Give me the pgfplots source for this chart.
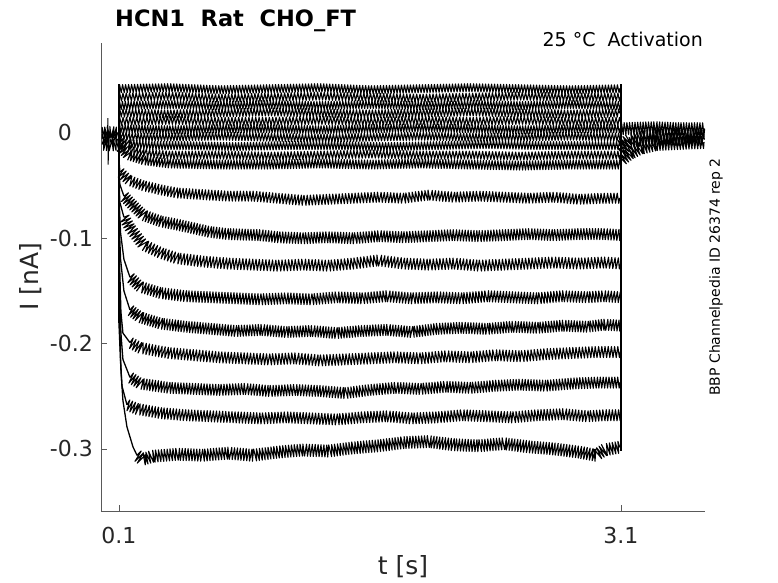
\documentclass[border=0pt]{standalone}
\usepackage{fontspec}
\setmainfont{DejaVu Sans}
\usepackage{pgfplots}
\pgfplotsset{compat=1.18}
\usetikzlibrary{decorations.pathmorphing}
\definecolor{axgray}{RGB}{38,38,38}
\tikzset{nz/.style 2 args={black, line width=1.1bp, line join=round, decorate, decoration={zigzag, segment length=#1, amplitude=#2}},
  tr/.style={black, line width=1.3bp, line join=round}}
\begin{document}
\begin{tikzpicture}
\useasboundingbox (-101bp,-72bp) rectangle (677bp,511bp);
\begin{axis}[
  name=ax, at={(0,0)}, anchor=south west,
  scale only axis, width=604bp, height=468bp,
  xmin=-0.007, xmax=3.602, ymin=-0.3589, ymax=0.0854,
  axis x line*=bottom, axis y line*=left,
  axis line style={black!65, line width=0.7bp, -},
  tick align=inside, major tick length=6bp,
  tick style={black!65, line width=0.7bp},
  xtick={0.1,3.1}, xticklabels={0.1,3.1},
  ytick={-0.3,-0.2,-0.1,0}, yticklabels={-0.3,-0.2,-0.1,0\phantom{.1}},
  ticklabel style={font=\fontsize{22bp}{26bp}\selectfont, text=axgray},
  xticklabel style={anchor=base, yshift=-32bp, inner sep=0pt},
  yticklabel style={anchor=east, xshift=-8bp, inner sep=0pt},
]
% pre-step baseline
\addplot[nz={2.6bp}{5.5bp}] coordinates {(0,0.000) (0.05,0.001) (0.1,0.000)};
\addplot[nz={3.1bp}{5.5bp}] coordinates {(0,-0.006) (0.05,-0.005) (0.1,-0.006)};
\addplot[nz={2.8bp}{5.5bp}] coordinates {(0,-0.011) (0.05,-0.012) (0.1,-0.011)};
\addplot[black, line width=1bp] coordinates {(0.032,-0.006) (0.034,0.014) (0.036,-0.030) (0.038,-0.006)};
% step edges
\addplot[black, line width=1.2bp] coordinates {(0.1,0.046) (0.1,-0.18)};
\addplot[black, line width=1.2bp] coordinates {(3.1,0.046) (3.1,-0.302)};
% upper traces
\addplot[nz={3bp}{4bp}] coordinates {(0.1,0.042) (0.4,0.043) (0.7,0.041) (1.0,0.042) (1.3,0.043) (1.6,0.041) (1.9,0.042) (2.2,0.043) (2.5,0.042) (2.8,0.041) (3.1,0.042)};
\addplot[nz={3.3bp}{4bp}] coordinates {(0.1,0.034) (0.4,0.035) (0.7,0.033) (1.0,0.034) (1.3,0.035) (1.6,0.034) (1.9,0.033) (2.2,0.034) (2.5,0.035) (2.8,0.034) (3.1,0.034)};
\addplot[nz={2.9bp}{4bp}] coordinates {(0.1,0.026) (0.4,0.027) (0.7,0.026) (1.0,0.027) (1.3,0.026) (1.6,0.027) (1.9,0.026) (2.2,0.027) (2.5,0.026) (2.8,0.027) (3.1,0.026)};
\addplot[nz={3.2bp}{4bp}] coordinates {(0.1,0.019) (0.4,0.018) (0.7,0.019) (1.0,0.020) (1.3,0.019) (1.6,0.018) (1.9,0.019) (2.2,0.020) (2.5,0.019) (2.8,0.018) (3.1,0.019)};
\addplot[nz={3.4bp}{4bp}] coordinates {(0.1,0.011) (0.4,0.012) (0.7,0.011) (1.0,0.011) (1.3,0.012) (1.6,0.011) (1.9,0.012) (2.2,0.011) (2.5,0.012) (2.8,0.011) (3.1,0.011)};
\addplot[nz={2.8bp}{4bp}] coordinates {(0.1,0.004) (0.4,0.003) (0.7,0.004) (1.0,0.004) (1.3,0.003) (1.6,0.004) (1.9,0.005) (2.2,0.004) (2.5,0.003) (2.8,0.004) (3.1,0.004)};
\addplot[nz={3.1bp}{4bp}] coordinates {(0.1,-0.002) (0.2,-0.004) (0.4,-0.004) (0.7,-0.003) (1.0,-0.004) (1.3,-0.005) (1.6,-0.004) (1.9,-0.003) (2.2,-0.004) (2.5,-0.004) (2.8,-0.003) (3.1,-0.004)};
\addplot[nz={3bp}{4bp}] coordinates {(0.1,-0.006) (0.15,-0.010) (0.3,-0.012) (0.5,-0.012) (0.8,-0.013) (1.1,-0.012) (1.4,-0.012) (1.7,-0.013) (2.0,-0.012) (2.3,-0.011) (2.6,-0.012) (2.9,-0.012) (3.1,-0.012)};
\addplot[nz={3.3bp}{4bp}] coordinates {(0.1,-0.008) (0.15,-0.015) (0.25,-0.019) (0.4,-0.021) (0.7,-0.021) (1.0,-0.022) (1.3,-0.021) (1.6,-0.020) (1.9,-0.021) (2.2,-0.021) (2.5,-0.022) (2.8,-0.021) (3.1,-0.021)};
\addplot[nz={2.9bp}{4.5bp}] coordinates {(0.1,-0.013) (0.15,-0.021) (0.25,-0.026) (0.4,-0.029) (0.7,-0.030) (1.0,-0.030) (1.3,-0.029) (1.6,-0.030) (1.9,-0.029) (2.2,-0.030) (2.5,-0.031) (2.8,-0.030) (3.1,-0.030)};
% lower traces: fast onset (plain) then noisy plateau
\addplot[tr] coordinates {(0.1,-0.025) (0.106,-0.037)};
\addplot[nz={3.2bp}{5bp}] coordinates {(0.106,-0.037) (0.16,-0.045) (0.244,-0.050) (0.35,-0.054) (0.447,-0.057) (0.644,-0.059) (0.75,-0.060) (0.9,-0.060) (1.05,-0.062) (1.2,-0.064) (1.35,-0.063) (1.5,-0.062) (1.65,-0.061) (1.8,-0.062) (1.95,-0.059) (2.1,-0.061) (2.25,-0.060) (2.4,-0.061) (2.55,-0.062) (2.7,-0.061) (2.85,-0.063) (3.0,-0.062) (3.1,-0.062)};
\addplot[tr] coordinates {(0.1,-0.035) (0.106,-0.049) (0.13,-0.060)};
\addplot[nz={2.9bp}{5.5bp}] coordinates {(0.13,-0.060) (0.166,-0.066) (0.244,-0.078) (0.35,-0.084) (0.447,-0.087) (0.644,-0.094) (0.75,-0.096) (0.94,-0.097) (1.05,-0.099) (1.2,-0.100) (1.35,-0.099) (1.5,-0.100) (1.65,-0.098) (1.8,-0.099) (1.95,-0.098) (2.1,-0.097) (2.25,-0.098) (2.4,-0.097) (2.55,-0.096) (2.7,-0.097) (2.85,-0.096) (3.0,-0.096) (3.1,-0.097)};
\addplot[tr] coordinates {(0.1,-0.045) (0.106,-0.066) (0.13,-0.080)};
\addplot[nz={3.3bp}{5.5bp}] coordinates {(0.13,-0.080) (0.166,-0.090) (0.244,-0.106) (0.35,-0.114) (0.447,-0.119) (0.6,-0.122) (0.75,-0.124) (0.9,-0.125) (1.05,-0.126) (1.2,-0.125) (1.35,-0.126) (1.5,-0.124) (1.65,-0.121) (1.8,-0.124) (1.95,-0.125) (2.1,-0.124) (2.25,-0.126) (2.4,-0.125) (2.55,-0.124) (2.7,-0.123) (2.85,-0.124) (3.0,-0.123) (3.1,-0.124)};
\addplot[tr] coordinates {(0.1,-0.06) (0.11,-0.095) (0.13,-0.120) (0.166,-0.137)};
\addplot[nz={3bp}{5.5bp}] coordinates {(0.166,-0.137) (0.226,-0.146) (0.35,-0.152) (0.5,-0.155) (0.65,-0.156) (0.8,-0.157) (0.95,-0.158) (1.1,-0.157) (1.25,-0.158) (1.4,-0.156) (1.55,-0.157) (1.7,-0.155) (1.85,-0.157) (2.0,-0.156) (2.15,-0.157) (2.3,-0.155) (2.45,-0.156) (2.6,-0.157) (2.75,-0.155) (2.9,-0.156) (3.0,-0.155) (3.1,-0.156)};
\addplot[tr] coordinates {(0.1,-0.08) (0.11,-0.120) (0.13,-0.150) (0.166,-0.168)};
\addplot[nz={2.8bp}{5.5bp}] coordinates {(0.166,-0.168) (0.226,-0.175) (0.35,-0.181) (0.5,-0.184) (0.65,-0.186) (0.8,-0.188) (0.95,-0.187) (1.1,-0.189) (1.25,-0.188) (1.4,-0.190) (1.55,-0.188) (1.7,-0.187) (1.85,-0.189) (2.0,-0.186) (2.15,-0.185) (2.3,-0.186) (2.45,-0.184) (2.6,-0.185) (2.75,-0.183) (2.9,-0.184) (3.0,-0.182) (3.1,-0.183)};
\addplot[tr] coordinates {(0.1,-0.10) (0.112,-0.170) (0.124,-0.190) (0.166,-0.199)};
\addplot[nz={3.2bp}{5.5bp}] coordinates {(0.166,-0.199) (0.226,-0.204) (0.4,-0.209) (0.55,-0.211) (0.7,-0.213) (0.85,-0.214) (1.0,-0.215) (1.15,-0.214) (1.3,-0.216) (1.45,-0.215) (1.6,-0.214) (1.75,-0.213) (1.9,-0.214) (2.05,-0.212) (2.2,-0.213) (2.35,-0.211) (2.5,-0.212) (2.65,-0.210) (2.8,-0.209) (2.95,-0.208) (3.1,-0.208)};
\addplot[tr] coordinates {(0.1,-0.12) (0.112,-0.190) (0.124,-0.215) (0.166,-0.232)};
\addplot[nz={2.9bp}{5.5bp}] coordinates {(0.166,-0.232) (0.226,-0.238) (0.4,-0.242) (0.55,-0.243) (0.7,-0.244) (0.85,-0.243) (1.0,-0.245) (1.15,-0.244) (1.3,-0.245) (1.45,-0.247) (1.6,-0.244) (1.75,-0.242) (1.9,-0.243) (2.05,-0.241) (2.2,-0.242) (2.35,-0.240) (2.5,-0.239) (2.65,-0.240) (2.8,-0.238) (2.95,-0.237) (3.1,-0.237)};
\addplot[tr] coordinates {(0.1,-0.14) (0.11,-0.215) (0.118,-0.240) (0.148,-0.258)};
\addplot[nz={3.1bp}{5.5bp}] coordinates {(0.148,-0.258) (0.208,-0.262) (0.35,-0.266) (0.5,-0.268) (0.65,-0.269) (0.8,-0.270) (0.95,-0.271) (1.1,-0.270) (1.25,-0.271) (1.4,-0.272) (1.55,-0.270) (1.7,-0.269) (1.85,-0.271) (2.0,-0.270) (2.15,-0.268) (2.3,-0.269) (2.45,-0.270) (2.6,-0.268) (2.75,-0.267) (2.9,-0.269) (3.0,-0.268) (3.1,-0.268)};
\addplot[tr] coordinates {(0.1,-0.18) (0.112,-0.225) (0.124,-0.254) (0.148,-0.279) (0.184,-0.298) (0.208,-0.306)};
\addplot[nz={2.9bp}{6bp}] coordinates {(0.208,-0.306) (0.24,-0.310) (0.3,-0.307) (0.45,-0.305) (0.6,-0.306) (0.75,-0.304) (0.9,-0.306) (1.05,-0.303) (1.2,-0.301) (1.35,-0.302) (1.5,-0.299) (1.65,-0.297) (1.8,-0.294) (1.95,-0.293) (2.1,-0.296) (2.25,-0.297) (2.4,-0.295) (2.55,-0.298) (2.7,-0.300) (2.85,-0.303) (2.95,-0.306) (3.0,-0.301) (3.1,-0.298)};
% tail after step
\addplot[nz={2.7bp}{6bp}] coordinates {(3.1,0.004) (3.3,0.005) (3.45,0.004) (3.6,0.004)};
\addplot[nz={3.1bp}{6bp}] coordinates {(3.1,-0.012) (3.15,-0.006) (3.25,-0.003) (3.4,-0.002) (3.6,-0.003)};
\addplot[nz={2.9bp}{6bp}] coordinates {(3.1,-0.026) (3.15,-0.020) (3.21,-0.015) (3.31,-0.011) (3.45,-0.010) (3.6,-0.009)};
\addplot[nz={3.3bp}{6bp}] coordinates {(3.1,-0.018) (3.14,-0.011) (3.2,-0.007) (3.35,-0.006) (3.6,-0.006)};
\end{axis}
\node[anchor=base west, font=\bfseries\fontsize{22.5bp}{27bp}\selectfont, inner sep=0pt] at ([xshift=14bp,yshift=16bp]ax.north west) {HCN1\ \ Rat\ \ CHO\_FT};
\node[anchor=base east, font=\fontsize{19bp}{23bp}\selectfont, inner sep=0pt] at ([xshift=-2bp,yshift=-4bp]ax.north east) {25 °C\ \ Activation};
\node[rotate=90, font=\fontsize{14bp}{17bp}\selectfont, inner sep=0pt] at ([xshift=11bp]ax.east) {BBP Channelpedia ID 26374 rep 2};
\node[rotate=90, font=\fontsize{25bp}{30bp}\selectfont, text=axgray, inner sep=0pt] at ([xshift=-70bp]ax.west) {I [nA]};
\node[font=\fontsize{25bp}{30bp}\selectfont, text=axgray, inner sep=0pt] at ([yshift=-56bp]ax.south) {t [s]};
\end{tikzpicture}
\end{document}
